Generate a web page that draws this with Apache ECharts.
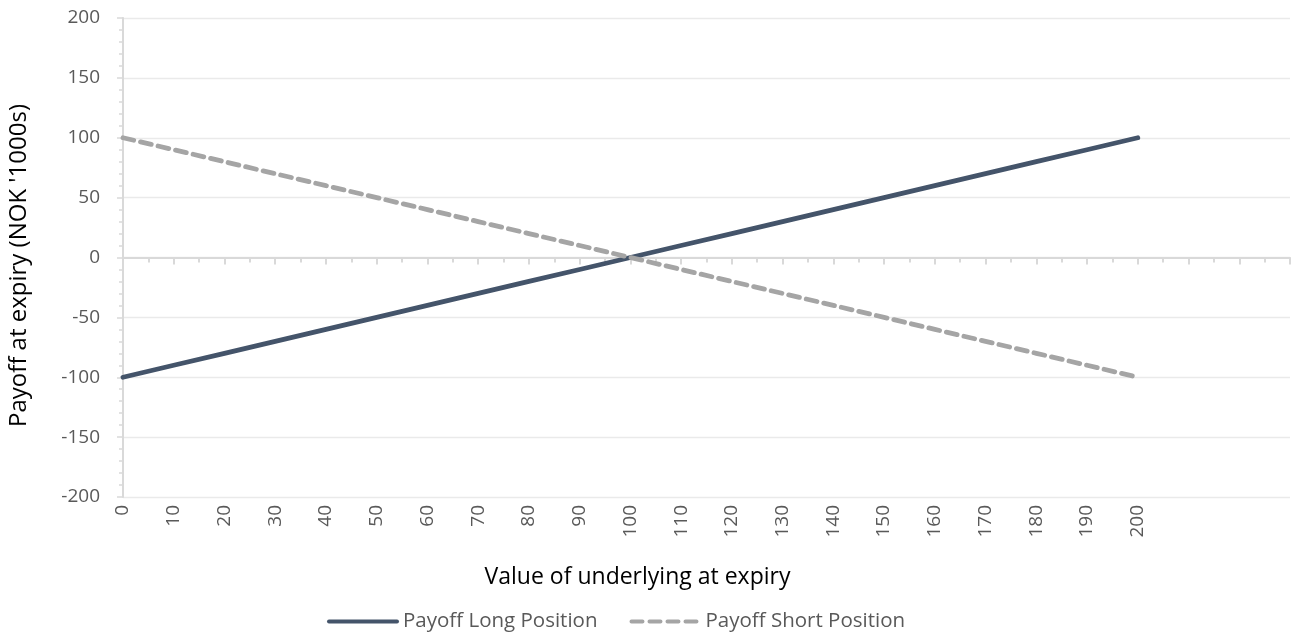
<!DOCTYPE html>
<html>
<head>
<meta charset="utf-8">
<script src="https://cdn.jsdelivr.net/npm/echarts@6/dist/echarts.min.js"></script>
<style>
html,body{margin:0;padding:0;background:#fff;}
#c{width:1291px;height:633px;}
</style>
</head>
<body>
<div id="c"></div>
<script>
const underlying = [0, 10, 20, 30, 40, 50, 60, 70, 80, 90, 100, 110, 120, 130, 140, 150, 160, 170, 180, 190, 200];
const payoffLong = [-100, -90, -80, -70, -60, -50, -40, -30, -20, -10, 0, 10, 20, 30, 40, 50, 60, 70, 80, 90, 100];
const payoffShort = [100, 90, 80, 70, 60, 50, 40, 30, 20, 10, 0, -10, -20, -30, -40, -50, -60, -70, -80, -90, -100];
const xLabelMax = 200;
const xAxisMax = 230;

const FONT = '"Open Sans", "Liberation Sans", sans-serif';
const chart = echarts.init(document.getElementById('c'));
const pairs = (ys) => underlying.map((x, i) => [x, ys[i]]);

chart.setOption({
  animation: false,
  textStyle: { fontFamily: FONT },
  grid: { left: 123, right: 1, top: 18, bottom: 136, containLabel: false, outerBoundsMode: 'none' },
  legend: {
    left: 322, top: 606,
    itemWidth: 68, itemHeight: 14, itemGap: 32,
    itemStyle: { opacity: 0 },
    lineStyle: { width: 4 },
    textStyle: { fontFamily: FONT, fontSize: 20.5, color: '#595959', padding: [0, 0, 0, 1] },
    data: ['Payoff Long Position', 'Payoff Short Position']
  },
  xAxis: [
    {
      type: 'value', min: 0, max: xAxisMax, interval: 10,
      axisLine: { show: true, onZero: true, lineStyle: { color: '#d9d9d9', width: 2 } },
      axisTick: { show: true, length: 7, lineStyle: { color: '#d9d9d9', width: 2 } },
      minorTick: { show: true, splitNumber: 2, length: 5, lineStyle: { color: '#d9d9d9', width: 2 } },
      axisLabel: { show: false },
      splitLine: { show: false }
    },
    {
      type: 'value', min: 0, max: xAxisMax, interval: 10, position: 'bottom',
      name: 'Value of underlying at expiry', nameLocation: 'middle', nameGap: 69,
      nameTextStyle: { fontFamily: FONT, fontSize: 23, color: '#000', padding: [0, 138, 0, 0] },
      axisLine: { show: false, onZero: false },
      axisTick: { show: false },
      splitLine: { show: false },
      axisLabel: {
        rotate: 90, margin: 8, fontFamily: FONT, fontSize: 19, color: '#595959',
        formatter: (v) => (v <= xLabelMax ? String(v) : '')
      }
    }
  ],
  yAxis: {
    type: 'value', min: -200, max: 200, interval: 50,
    name: "Payoff at expiry (NOK '1000s)", nameLocation: 'middle', nameGap: 92,
    nameTextStyle: { fontFamily: FONT, fontSize: 24, color: '#000', padding: [0, 16, 0, 0] },
    axisLine: { show: true, lineStyle: { color: '#d9d9d9', width: 2 } },
    axisTick: { show: true, length: 6, lineStyle: { color: '#d9d9d9', width: 1.5 } },
    minorTick: { show: true, splitNumber: 5, length: 4, lineStyle: { color: '#d9d9d9', width: 1.5 } },
    axisLabel: { margin: 23, fontFamily: FONT, fontSize: 19, color: '#595959' },
    splitLine: { show: true, lineStyle: { color: '#eaeaea', width: 1.3 } }
  },
  series: [
    {
      name: 'Payoff Long Position', type: 'line', xAxisIndex: 0,
      data: pairs(payoffLong), symbol: 'none',
      lineStyle: { color: '#44546A', width: 4.8, cap: 'round' },
      itemStyle: { color: '#44546A' }
    },
    {
      name: 'Payoff Short Position', type: 'line', xAxisIndex: 0,
      data: pairs(payoffShort), symbol: 'none',
      lineStyle: { color: '#A5A5A5', width: 4.8, type: [11, 7], cap: 'round' },
      itemStyle: { color: '#A5A5A5' }
    }
  ]
});
</script>
</body>
</html>
